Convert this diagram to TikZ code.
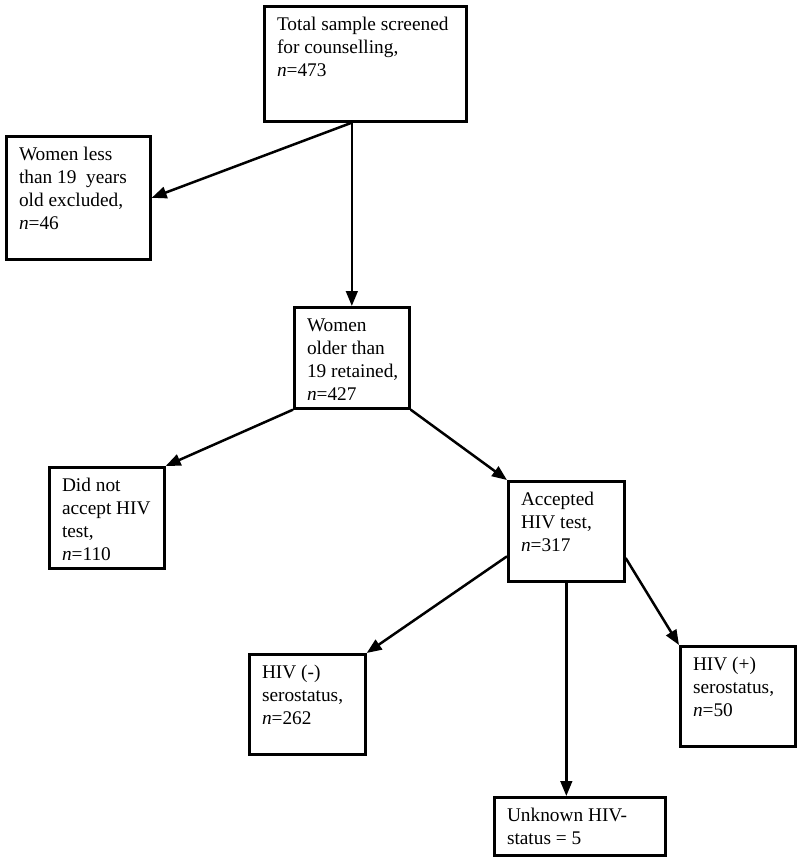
\documentclass[tikz,border=0pt]{standalone}
\usepackage{fontspec}
\setmainfont{Liberation Serif}
\usetikzlibrary{arrows.meta}
\tikzset{
  flowbox/.style={
    draw,line width=1.6pt,anchor=north west,inner sep=0pt
  },
  boxtext/.style={
    anchor=north west,align=left,inner xsep=8.2pt,inner ysep=7.3pt,
    font=\fontsize{11.6}{13.8}\selectfont
  },
  flowarrow/.style={-{Triangle[length=9pt,width=7pt]},line width=1.5pt}
}

\begin{document}
\begin{tikzpicture}[x=0.6pt,y=-0.6pt]
  \useasboundingbox (0,0) rectangle (800,860);
  \node[flowbox,minimum width=121.2pt,minimum height=69pt,
    label={[boxtext]north west:{Total sample screened\\for counselling,\\\textit{n}=473}}]
    (total) at (263,5) {};
  \node[flowbox,minimum width=86.4pt,minimum height=73.8pt,
    label={[boxtext]north west:{Women less\\than 19\ \ years\\old excluded,\\\textit{n}=46}}]
    (excluded) at (5,135) {};
  \node[flowbox,minimum width=69pt,minimum height=60.6pt,
    label={[boxtext]north west:{Women\\older than\\19 retained,\\\textit{n}=427}}]
    (retained) at (293,306) {};
  \node[flowbox,minimum width=69pt,minimum height=60.6pt,
    label={[boxtext]north west:{Did not\\accept HIV\\test,\\\textit{n}=110}}]
    (declined) at (48,466) {};
  \node[flowbox,minimum width=69.6pt,minimum height=60pt,
    label={[boxtext]north west:{Accepted\\HIV test,\\\textit{n}=317}}]
    (accepted) at (507,480) {};
  \node[flowbox,minimum width=69.6pt,minimum height=60pt,
    label={[boxtext]north west:{HIV (-)\\serostatus,\\\textit{n}=262}}]
    (negative) at (248,653) {};
  \node[flowbox,minimum width=69pt,minimum height=60pt,
    label={[boxtext]north west:{HIV (+)\\serostatus,\\\textit{n}=50}}]
    (positive) at (679,645) {};
  \node[flowbox,minimum width=102.6pt,minimum height=34.8pt,
    label={[boxtext]north west:{Unknown HIV-\\status = 5}}]
    (unknown) at (493,796) {};
  \draw[flowarrow] (retained.north |- total.south)--(excluded.east);
  \draw[flowarrow] (retained.north |- total.south)--(retained.north);
  \draw[flowarrow] (retained.south west)--(declined.north east);
  \draw[flowarrow] (retained.south east)--(accepted.north west);
  \draw[flowarrow] ([yshift=-15pt]accepted.west)--(negative.north east);
  \draw[flowarrow] ([yshift=-16pt]accepted.east)--(positive.north west);
  \draw[flowarrow] (accepted.south)--(unknown.north -| accepted.south);
\end{tikzpicture}
\end{document}
